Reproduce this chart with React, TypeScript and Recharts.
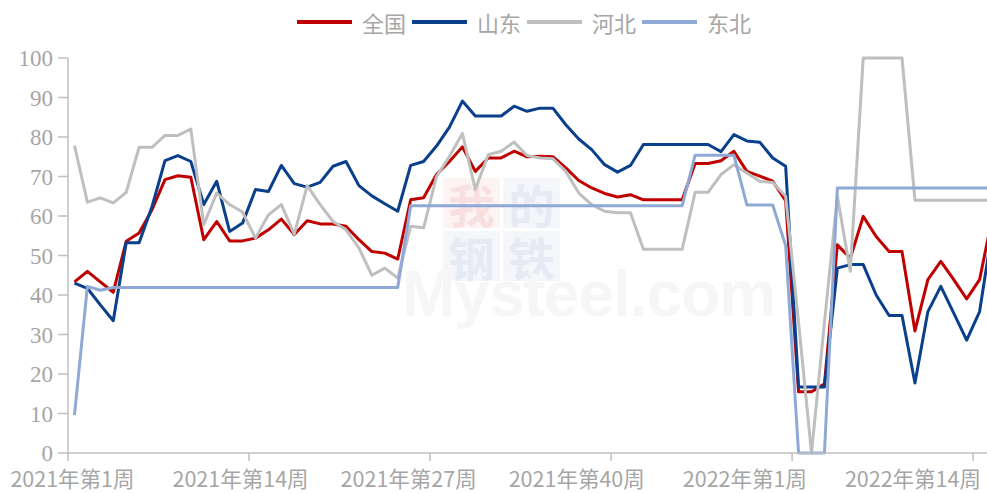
import { LineChart, Line, XAxis, YAxis } from 'recharts'

// 周次：2021年第1周 ~ 2022年第20周
const weeks2021 = Array.from({ length: 52 }, (_, i) => `2021年第${i + 1}周`)
const weeks2022 = Array.from({ length: 20 }, (_, i) => `2022年第${i + 1}周`)
const weeks = [...weeks2021, ...weeks2022]

const national = [
  43.3, 46.0, 43.3, 40.7, 53.6, 55.7, 61.6, 69.2, 70.2, 69.8,
  54.0, 58.6, 53.7, 53.7, 54.4, 56.5, 59.2, 55.3, 58.8, 58.0,
  58.0, 57.4, 54.0, 51.0, 50.6, 49.1, 64.1, 64.6, 70.5, 73.8,
  77.5, 71.3, 74.7, 74.7, 76.4, 75.0, 75.1, 75.0, 72.2, 69.0,
  67.1, 65.7, 64.8, 65.4, 64.1, 64.1, 64.1, 64.1, 73.3, 73.3,
  74.0, 76.4, 71.3, 70.1, 68.8, 63.9, 15.5, 15.5, 17.5, 52.7,
  49.3, 59.9, 54.8, 51.0, 51.0, 30.9, 43.9, 48.5, 43.9, 39.0,
  43.9, 60.0,
]

const shandong = [
  43.0, 41.7, 37.5, 33.5, 53.2, 53.2, 62.4, 74.0, 75.3, 73.8,
  62.9, 68.8, 56.1, 58.2, 66.7, 66.2, 72.8, 68.2, 67.3, 68.5,
  72.6, 73.8, 67.7, 65.1, 63.1, 61.2, 72.8, 73.8, 77.7, 82.5,
  89.1, 85.3, 85.3, 85.3, 87.8, 86.5, 87.3, 87.3, 83.1, 79.5,
  76.8, 73.0, 71.1, 72.8, 78.1, 78.1, 78.1, 78.1, 78.1, 78.1,
  76.3, 80.6, 79.0, 78.7, 74.7, 72.6, 16.7, 16.7, 16.7, 46.8,
  47.7, 47.7, 40.0, 34.8, 34.8, 17.7, 35.8, 42.2, 35.4, 28.6,
  35.8, 57.0,
]

const hebei = [
  77.8, 63.5, 64.6, 63.3, 66.0, 77.4, 77.4, 80.4, 80.4, 82.0,
  57.8, 65.8, 62.9, 61.0, 54.4, 60.3, 62.9, 55.4, 67.7, 62.9,
  58.6, 56.5, 51.9, 45.0, 46.8, 44.3, 57.4, 57.0, 70.0, 75.1,
  80.9, 66.7, 75.5, 76.4, 78.7, 75.3, 74.7, 74.5, 71.3, 65.8,
  62.9, 61.2, 60.8, 60.8, 51.6, 51.6, 51.6, 51.6, 66.0, 66.0,
  70.5, 73.0, 70.9, 68.8, 68.5, 65.0, 33.0, 0, 33.0, 65.0,
  46.0, 100, 100, 100, 100, 64.0, 64.0, 64.0, 64.0, 64.0,
  64.0, 64.0,
]

const northeast = [
  9.6, 42.2, 41.2, 41.9, 41.9, 41.9, 41.9, 41.9, 41.9, 41.9,
  41.9, 41.9, 41.9, 41.9, 41.9, 41.9, 41.9, 41.9, 41.9, 41.9,
  41.9, 41.9, 41.9, 41.9, 41.9, 41.9, 62.6, 62.6, 62.6, 62.6,
  62.6, 62.6, 62.6, 62.6, 62.6, 62.6, 62.6, 62.6, 62.6, 62.6,
  62.6, 62.6, 62.6, 62.6, 62.6, 62.6, 62.6, 62.6, 75.4, 75.4,
  75.4, 75.4, 62.8, 62.8, 62.8, 52.5, 0, 0, 0, 67.1,
  67.1, 67.1, 67.1, 67.1, 67.1, 67.1, 67.1, 67.1, 67.1, 67.1,
  67.1, 67.1,
]

const yTicks = [0, 10, 20, 30, 40, 50, 60, 70, 80, 90, 100]
const labelIdx = [0, 13, 26, 39, 52, 65]
const markIdx = [-0.5, 13.5, 27.5, 41.5, 55.5, 69.5]

const series = [
  { key: 'national', name: '全国', color: '#C00000' },
  { key: 'shandong', name: '山东', color: '#0A3F8C' },
  { key: 'hebei', name: '河北', color: '#BFBFBF' },
  { key: 'northeast', name: '东北', color: '#8EA9D6' },
]

const data = weeks.map((w, i) => ({
  idx: i,
  week: w,
  national: national[i],
  shandong: shandong[i],
  hebei: hebei[i],
  northeast: northeast[i],
}))

const TEXT = '#a6a6a6'
const AXIS = '#bfbfbf'
const CJK = '"Noto Sans CJK SC", "Noto Sans", sans-serif'

const XTick = (props: any) => {
  const { x, y, payload } = props
  const v = payload.value
  if (Number.isInteger(v)) {
    return (
      <text x={x - 2} y={y + 34} textAnchor="middle" fill={TEXT} fontSize={21.5} fontFamily={CJK}>
        {weeks[v]}
      </text>
    )
  }
  return <line x1={x} y1={y} x2={x} y2={y + 8} stroke={AXIS} strokeWidth={1.5} />
}

const LegendRow = () => (
  <div style={{ position: 'absolute', left: 297, top: 9, display: 'flex', alignItems: 'center' }}>
    {series.map(s => (
      <div key={s.key} style={{ display: 'flex', alignItems: 'center', marginRight: 6 }}>
        <div style={{ width: 55, height: 4, background: s.color, marginRight: 10 }} />
        <span style={{ color: TEXT, fontSize: 22, fontFamily: CJK, lineHeight: '26px' }}>{s.name}</span>
      </div>
    ))}
  </div>
)

const Watermark = () => {
  const box = (bg: string, fg: string, ch: string, left: number, top: number) => (
    <div style={{
      position: 'absolute', left, top, width: 57, height: 50, background: bg, color: fg,
      fontSize: 46, lineHeight: '50px', textAlign: 'center', fontFamily: '"Noto Sans CJK SC"', fontWeight: 700,
    }}>{ch}</div>
  )
  return (
    <div style={{ position: 'absolute', left: 0, top: 0, width: 987, height: 493 }}>
      {box('#fdf3f3', '#f8e0e0', '我', 443, 178)}
      {box('#f4f6fa', '#e6eaf2', '的', 503, 178)}
      {box('#f4f6fa', '#e6eaf2', '钢', 443, 231)}
      {box('#f4f6fa', '#e6eaf2', '铁', 503, 231)}
      <div style={{
        position: 'absolute', left: 402, top: 262, fontSize: 64, lineHeight: '64px', fontWeight: 700, color: '#f6f6f6',
        fontFamily: '"Liberation Sans", Arial, sans-serif', letterSpacing: -1,
      }}>Mysteel.com</div>
    </div>
  )
}

export default function App() {
  return (
    <div style={{ position: 'absolute', left: 0, top: 0, width: 987, height: 493, overflow: 'hidden', background: '#fff' }}>
      <Watermark />
      <LegendRow />
      <div style={{ position: 'absolute', left: 0, top: 0 }}>
        <LineChart width={1000} height={493} data={data} margin={{ top: 58, right: 1, bottom: 0, left: 0 }}>
          <XAxis
            dataKey="idx"
            type="number"
            domain={[-0.5, 71.5]}
            ticks={[...markIdx, ...labelIdx].sort((a, b) => a - b)}
            interval={0}
            height={40}
            tickSize={0}
            tickMargin={0}
            tickLine={false}
            tick={<XTick />}
            axisLine={{ stroke: AXIS, strokeWidth: 1.5 }}
          />
          <YAxis
            domain={[0, 100]}
            ticks={yTicks}
            width={68}
            tickSize={10}
            tickMargin={5}
            interval={0}
            axisLine={{ stroke: AXIS, strokeWidth: 1.5 }}
            tickLine={{ stroke: AXIS, strokeWidth: 1.5 }}
            tick={{ fill: TEXT, fontSize: 23, fontFamily: '"Liberation Serif", serif' }}
          />
          {series.map(s => (
            <Line
              key={s.key}
              dataKey={s.key}
              name={s.name}
              type="linear"
              stroke={s.color}
              strokeWidth={3}
              dot={false}
              strokeLinejoin="round"
              isAnimationActive={false}
            />
          ))}
        </LineChart>
      </div>
    </div>
  )
}
